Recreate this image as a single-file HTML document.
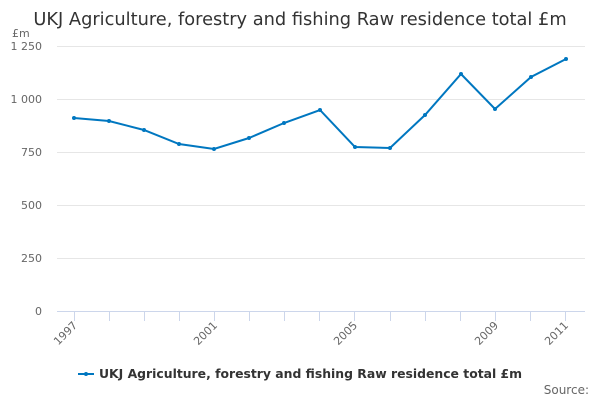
<!DOCTYPE html>
<html><head><style>body{margin:0;background:#fff}svg{font-family:"DejaVu Sans",sans-serif}</style></head><body>
<svg width="600" height="400" xmlns="http://www.w3.org/2000/svg">
<text x="300" y="25" text-anchor="middle" font-size="17.8" fill="#333">UKJ Agriculture, forestry and fishing Raw residence total £m</text>
<text x="12" y="37" font-size="11" fill="#666">£m</text>
<g stroke="#e6e6e6" stroke-width="1">
<line x1="57" x2="585" y1="46.5" y2="46.5"/><line x1="57" x2="585" y1="99.5" y2="99.5"/><line x1="57" x2="585" y1="152.5" y2="152.5"/><line x1="57" x2="585" y1="205.5" y2="205.5"/><line x1="57" x2="585" y1="258.5" y2="258.5"/>
</g>
<g font-size="11" fill="#666" text-anchor="end">
<text x="42" y="50">1 250</text><text x="42" y="103">1 000</text><text x="42" y="156">750</text><text x="42" y="209">500</text><text x="42" y="262">250</text><text x="42" y="315">0</text>
</g>
<line x1="57" x2="585" y1="311.5" y2="311.5" stroke="#ccd6eb"/>
<g stroke="#ccd6eb">
<line x1="74.5" x2="74.5" y1="311" y2="321"/><line x1="109.5" x2="109.5" y1="311" y2="321"/><line x1="144.5" x2="144.5" y1="311" y2="321"/><line x1="179.5" x2="179.5" y1="311" y2="321"/><line x1="214.5" x2="214.5" y1="311" y2="321"/><line x1="249.5" x2="249.5" y1="311" y2="321"/><line x1="284.5" x2="284.5" y1="311" y2="321"/><line x1="319.5" x2="319.5" y1="311" y2="321"/><line x1="354.5" x2="354.5" y1="311" y2="321"/><line x1="390.5" x2="390.5" y1="311" y2="321"/><line x1="425.5" x2="425.5" y1="311" y2="321"/><line x1="460.5" x2="460.5" y1="311" y2="321"/><line x1="495.5" x2="495.5" y1="311" y2="321"/><line x1="530.5" x2="530.5" y1="311" y2="321"/><line x1="565.5" x2="565.5" y1="311" y2="321"/>
</g>
<g font-size="11" fill="#666" text-anchor="end">
<text transform="translate(78,326) rotate(-45)">1997</text>
<text transform="translate(218,326) rotate(-45)">2001</text>
<text transform="translate(358,326) rotate(-45)">2005</text>
<text transform="translate(499,326) rotate(-45)">2009</text>
<text transform="translate(569,326) rotate(-45)">2011</text>
</g>
<polyline fill="none" stroke="#0077c0" stroke-width="2" points="74,118 109,121 144,130 179,144 214,149 249,138 284,123 320,110 355,147 390,148 425,115 461,74 495,109 531,77 566,59"/>
<g fill="#0077c0">
<circle cx="74" cy="118" r="2"/><circle cx="109" cy="121" r="2"/><circle cx="144" cy="130" r="2"/><circle cx="179" cy="144" r="2"/><circle cx="214" cy="149" r="2"/><circle cx="249" cy="138" r="2"/><circle cx="284" cy="123" r="2"/><circle cx="320" cy="110" r="2"/><circle cx="355" cy="147" r="2"/><circle cx="390" cy="148" r="2"/><circle cx="425" cy="115" r="2"/><circle cx="461" cy="74" r="2"/><circle cx="495" cy="109" r="2"/><circle cx="531" cy="77" r="2"/><circle cx="566" cy="59" r="2"/>
</g>
<line x1="78" x2="94" y1="374" y2="374" stroke="#0077c0" stroke-width="2"/>
<circle cx="86" cy="374" r="2" fill="#0077c0"/>
<text x="99" y="378" font-size="12.4" font-weight="bold" fill="#333">UKJ Agriculture, forestry and fishing Raw residence total £m</text>
<text x="589" y="394" font-size="12" fill="#666" text-anchor="end">Source:</text>
</svg>
</body></html>
